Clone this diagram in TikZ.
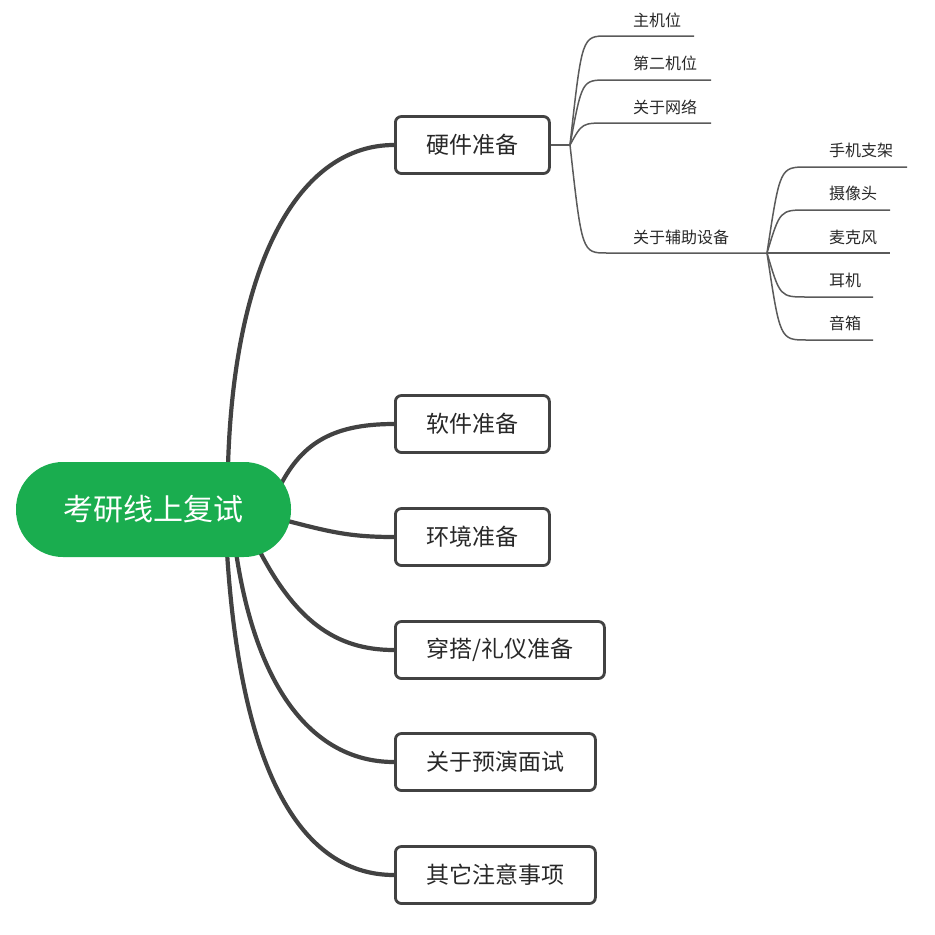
\documentclass[tikz,border=0pt]{standalone}
\usepackage{fontspec}
\setmainfont{Noto Sans CJK SC}
\definecolor{rootgreen}{RGB}{26,173,79}
\definecolor{linegray}{RGB}{66,66,66}
\definecolor{thingray}{RGB}{90,90,90}
\definecolor{txtgray}{RGB}{40,40,40}
\begin{document}
\begin{tikzpicture}[x=1pt,y=-1pt,
  rootbox/.style={fill=rootgreen, rounded corners=47pt, minimum width=275pt, minimum height=95pt, text=white, font=\fontsize{30}{35}\selectfont, inner sep=0pt},
  topic/.style={draw=linegray, line width=2.8pt, rounded corners=6pt, fill=white, minimum height=57pt, inner xsep=31pt, font=\fontsize{23}{27}\selectfont, text=txtgray, anchor=west},
  leaf/.style={font=\fontsize{16}{19}\selectfont, text=txtgray, inner sep=0pt, anchor=west},
  thick conn/.style={draw=linegray, line width=4.2pt},
  thin conn/.style={draw=thingray, line width=1.5pt}
]
\useasboundingbox (0,0) rectangle (935,935);

% topic boxes
\node[topic] (hw) at (394,145) {硬件准备};
\node[topic] (sw) at (394,424) {软件准备};
\node[topic] (env) at (394,537) {环境准备};
\node[topic] (dress) at (394,650) {穿搭/礼仪准备};
\node[topic] (mock) at (394,762) {关于预演面试};
\node[topic] (other) at (394,875) {其它注意事项};

% root exit points
\coordinate (r1) at (228,466);
\coordinate (r2) at (278,490);
\coordinate (r3) at (284,520);
\coordinate (r4) at (258,548);
\coordinate (r5) at (236,552);
\coordinate (r6) at (227,552);

\draw[thick conn] (r1) .. controls (234,260) and (300,145) .. (hw.west);
\draw[thick conn] (r2) .. controls (300,445) and (330,424) .. (sw.west);
\draw[thick conn] (r3) .. controls (330,532) and (350,537) .. (env.west);
\draw[thick conn] (r4) .. controls (295,620) and (335,650) .. (dress.west);
\draw[thick conn] (r5) .. controls (258,700) and (320,762) .. (mock.west);
\draw[thick conn] (r6) .. controls (242,790) and (310,875) .. (other.west);

% root
\node[rootbox] (root) at (153.5,509.5) {考研线上复试};

% hardware leaves
\node[leaf] (l1) at (633,20) {主机位};
\node[leaf] (l2) at (633,63) {第二机位};
\node[leaf] (l3) at (633,107) {关于网络};
\node[leaf] (l4) at (633,237) {关于辅助设备};

\coordinate (f1) at (570,145);
\coordinate (a1) at (607,36);  \coordinate (b1) at (694,36);
\coordinate (a2) at (607,80);  \coordinate (b2) at (711,80);
\coordinate (a3) at (607,123); \coordinate (b3) at (711,123);
\coordinate (a4) at (607,253); \coordinate (f2) at (767,253);

\draw[thin conn] (hw.east) -- (f1);
\draw[thin conn] (f1) .. controls (582,36) .. (a1) -- (b1);
\draw[thin conn] (f1) .. controls (582,80) .. (a2) -- (b2);
\draw[thin conn] (f1) .. controls (582,123) .. (a3) -- (b3);
\draw[thin conn] (f1) .. controls (582,253) .. (a4) -- (f2);

% device leaves
\node[leaf] (d1) at (829,150) {手机支架};
\node[leaf] (d2) at (829,193) {摄像头};
\node[leaf] (d3) at (829,237) {麦克风};
\node[leaf] (d4) at (829,280) {耳机};
\node[leaf] (d5) at (829,323) {音箱};

\coordinate (c1) at (807,167); \coordinate (e1) at (907,167);
\coordinate (c2) at (807,210); \coordinate (e2) at (890,210);
\coordinate (c3) at (807,253); \coordinate (e3) at (890,253);
\coordinate (c4) at (807,297); \coordinate (e4) at (873,297);
\coordinate (c5) at (807,340); \coordinate (e5) at (873,340);

\draw[thin conn] (f2) .. controls (780,167) .. (c1) -- (e1);
\draw[thin conn] (f2) .. controls (780,210) .. (c2) -- (e2);
\draw[thin conn] (f2) -- (e3);
\draw[thin conn] (f2) .. controls (780,297) .. (c4) -- (e4);
\draw[thin conn] (f2) .. controls (780,340) .. (c5) -- (e5);
\end{tikzpicture}
\end{document}
